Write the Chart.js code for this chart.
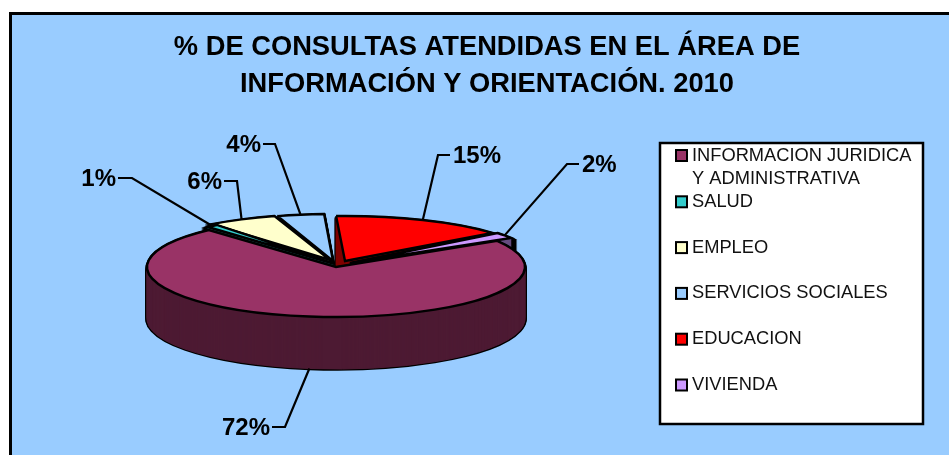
<!DOCTYPE html>
<html>
<head>
<meta charset="utf-8">
<style>html,body{margin:0;padding:0;background:#fff}canvas{display:block}</style>
<script src="https://cdn.jsdelivr.net/npm/chart.js@4/dist/chart.umd.min.js"></script>
</head>
<body>
<canvas id="c" width="949" height="455"></canvas>
<script>
// --- data ---
const categories = ['INFORMACION JURIDICA Y ADMINISTRATIVA','SALUD','EMPLEO','SERVICIOS SOCIALES','EDUCACION','VIVIENDA'];
const values = [72, 1, 6, 4, 15, 2];
const titleLines = ['% DE CONSULTAS ATENDIDAS EN EL ÁREA DE','INFORMACIÓN Y ORIENTACIÓN. 2010'];

// --- styles ---
const topColors  = ['#993366','#33CCCC','#FFFFCC','#99CCFF','#FF0000','#CC99FF'];
const sideColors = ['#4D1A33','#1A6666','#808066','#4D6680','#800000','#664D80'];
const FONT = '"Liberation Sans", Arial, sans-serif';

// --- 3D layout ---
const CX = 336, CY = 267, RX = 189, DEPTH = 52;
const shiftX = [0,-1,-6,-3, 9,14];
const shiftY = [0,-3,-7,-6,-6,-4];
const radiusY = [50,50,46,47,45,48];
const paintOrder = [3,2,1,4,5,0];
// leader line knee, end of the stub, side of the text
const kneeX = [285,132,237,275,438,567];
const kneeY = [427,178,181,144,155,164];
const stubX = [272,118,224,263,450,579];

function strokeDevice(ctx){
  ctx.stroke = function(){
    const t = ctx.getTransform();
    ctx.setTransform(1,0,0,1,0,0);
    CanvasRenderingContext2D.prototype.stroke.call(ctx);
    ctx.setTransform(t);
  };
}

function paintArc(ctx, arc, i, yOff, opts){
  const saved = arc.options;
  arc.options = Object.assign({}, saved, opts);
  ctx.save();
  ctx.translate(CX + shiftX[i], CY + shiftY[i] + yOff);
  ctx.scale(1, radiusY[i] / RX);
  ctx.translate(-arc.x, -arc.y);
  arc.draw(ctx);
  ctx.restore();
  arc.options = saved;
}

const pie3d = {
  id: 'pie3d',
  beforeDraw(chart){
    const ctx = chart.ctx;
    ctx.save();
    ctx.fillStyle = '#fff';
    ctx.fillRect(0,0,chart.width,chart.height);
    ctx.fillStyle = '#99CCFF';
    ctx.fillRect(10,13,chart.width,chart.height);
    ctx.strokeStyle = '#000';
    ctx.lineWidth = 3;
    ctx.lineCap = 'butt';
    ctx.beginPath();
    ctx.moveTo(10.5,chart.height);
    ctx.lineTo(10.5,13.5);
    ctx.lineTo(chart.width,13.5);
    ctx.stroke();
    ctx.restore();
  },
  beforeDatasetsDraw(chart){
    const ctx = chart.ctx;
    const arcs = chart.getDatasetMeta(0).data;
    strokeDevice(ctx);
    paintOrder.forEach(i => {
      const arc = arcs[i];
      for (let d = DEPTH; d >= 1; d--)
        paintArc(ctx, arc, i, d, {backgroundColor:'#000', borderColor:'#000', borderWidth:3.4, borderJoinStyle:'miter'});
      for (let d = DEPTH; d >= 1; d--)
        paintArc(ctx, arc, i, d, {backgroundColor:sideColors[i], borderColor:sideColors[i], borderWidth:1, borderJoinStyle:'miter'});
      paintArc(ctx, arc, i, 0, {backgroundColor:topColors[i], borderColor:'#000', borderWidth:2.4, borderJoinStyle:'miter'});
    });
    delete ctx.stroke;

    // leader lines and percentage labels
    ctx.save();
    ctx.strokeStyle = '#000';
    ctx.lineWidth = 2.2;
    ctx.fillStyle = '#000';
    ctx.font = 'bold 24px ' + FONT;
    ctx.textBaseline = 'middle';
    arcs.forEach((arc,i) => {
      const mid = (arc.startAngle + arc.endAngle) / 2;
      const px = CX + shiftX[i] + RX * Math.cos(mid);
      const s = Math.sin(mid);
      const py = CY + shiftY[i] + radiusY[i] * s + (s > 0 ? DEPTH : 0);
      ctx.beginPath();
      ctx.moveTo(px,py);
      ctx.lineTo(kneeX[i],kneeY[i]);
      ctx.lineTo(stubX[i],kneeY[i]);
      ctx.stroke();
      const right = stubX[i] < kneeX[i];
      ctx.textAlign = right ? 'right' : 'left';
      ctx.fillText(values[i] + '%', stubX[i] + (right ? -2 : 3), kneeY[i] + 1);
    });
    ctx.restore();

    // legend
    const L = {x:660, y:143, w:263, h:281};
    ctx.save();
    ctx.fillStyle = '#fff';
    ctx.strokeStyle = '#000';
    ctx.lineWidth = 2.5;
    ctx.fillRect(L.x,L.y,L.w,L.h);
    ctx.strokeRect(L.x,L.y,L.w,L.h);
    ctx.font = '18.3px ' + FONT;
    ctx.textBaseline = 'middle';
    ctx.textAlign = 'left';
    const rowY = i => i === 0 ? 155.5 : 156 + 45.8 * i;
    categories.forEach((name,i) => {
      const y = rowY(i);
      ctx.fillStyle = topColors[i];
      ctx.lineWidth = 2;
      ctx.fillRect(676,y-5.5,11,11);
      ctx.strokeRect(676,y-5.5,11,11);
      ctx.fillStyle = '#111';
      const words = name.split(' ');
      let line = '', ly = y;
      words.forEach(w => {
        const t = line ? line + ' ' + w : w;
        if (ctx.measureText(t).width > 226 && line) {
          ctx.fillText(line,692,ly);
          ly += 23;
          line = w;
        } else line = t;
      });
      ctx.fillText(line,692,ly);
    });
    ctx.restore();
    return false;
  }
};

new Chart(document.getElementById('c'), {
  type: 'pie',
  data: { labels: categories, datasets: [{ data: values, backgroundColor: topColors, borderColor:'#000', borderWidth: 0 }] },
  options: {
    responsive: false,
    animation: false,
    radius: RX,
    rotation: 58.5,
    events: [],
    layout: { padding: { left: 25, right: 0, top: 0, bottom: 0 } },
    plugins: {
      legend: { display: false },
      tooltip: { enabled: false },
      title: {
        display: true,
        text: titleLines,
        color: '#000',
        font: { family: FONT, size: 27.3, weight: 'bold', lineHeight: 1.35 },
        padding: { top: 29, bottom: 0 }
      }
    }
  },
  plugins: [pie3d]
});
</script>
</body>
</html>
